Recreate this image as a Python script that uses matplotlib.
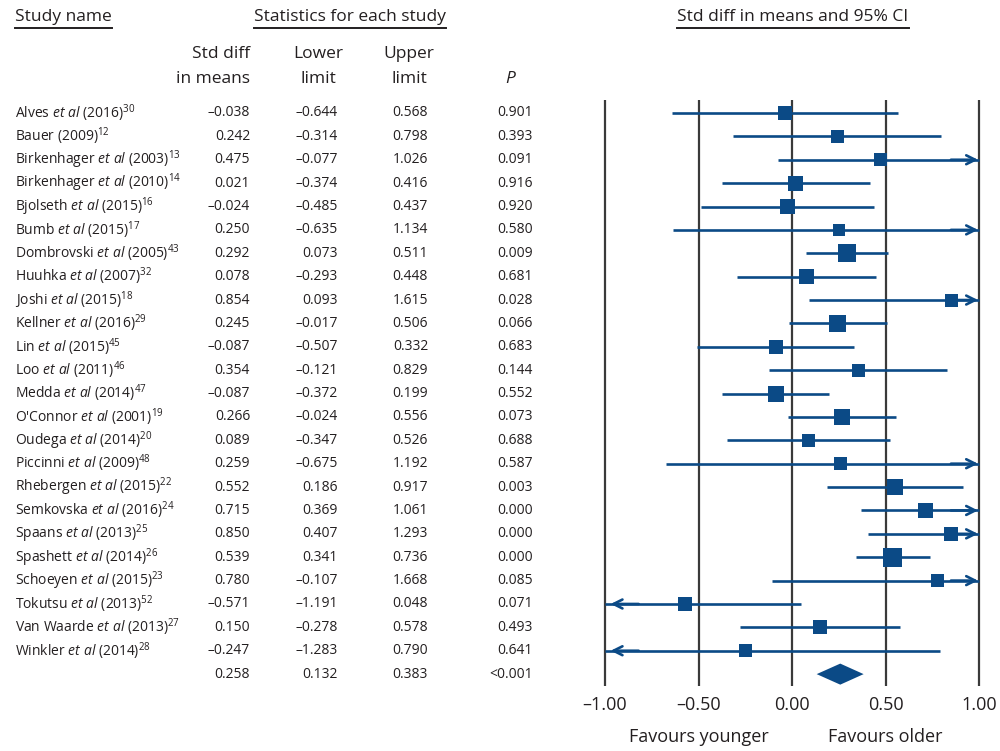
import matplotlib
matplotlib.use("Agg")
import matplotlib.pyplot as plt
from matplotlib import font_manager
from matplotlib.transforms import blended_transform_factory
from matplotlib.lines import Line2D

# ---- data -------------------------------------------------------------
studies = [
    "Alves et al (2016)", "Bauer (2009)", "Birkenhager et al (2003)",
    "Birkenhager et al (2010)", "Bjolseth et al (2015)", "Bumb et al (2015)",
    "Dombrovski et al (2005)", "Huuhka et al (2007)", "Joshi et al (2015)",
    "Kellner et al (2016)", "Lin et al (2015)", "Loo et al (2011)",
    "Medda et al (2014)", "O'Connor et al (2001)", "Oudega et al (2014)",
    "Piccinni et al (2009)", "Rhebergen et al (2015)", "Semkovska et al (2016)",
    "Spaans et al (2013)", "Spashett et al (2014)", "Schoeyen et al (2015)",
    "Tokutsu et al (2013)", "Van Waarde et al (2013)", "Winkler et al (2014)",
]
refs = ["30", "12", "13", "14", "16", "17", "43", "32", "18", "29", "45", "46",
        "47", "19", "20", "48", "22", "24", "25", "26", "23", "52", "27", "28"]
smd = [-0.038, 0.242, 0.475, 0.021, -0.024, 0.250, 0.292, 0.078, 0.854, 0.245,
       -0.087, 0.354, -0.087, 0.266, 0.089, 0.259, 0.552, 0.715, 0.850, 0.539,
       0.780, -0.571, 0.150, -0.247]
lower = [-0.644, -0.314, -0.077, -0.374, -0.485, -0.635, 0.073, -0.293, 0.093,
         -0.017, -0.507, -0.121, -0.372, -0.024, -0.347, -0.675, 0.186, 0.369,
         0.407, 0.341, -0.107, -1.191, -0.278, -1.283]
upper = [0.568, 0.798, 1.026, 0.416, 0.437, 1.134, 0.511, 0.448, 1.615, 0.506,
         0.332, 0.829, 0.199, 0.556, 0.526, 1.192, 0.917, 1.061, 1.293, 0.736,
         1.668, 0.048, 0.578, 0.790]
p_values = ["0.901", "0.393", "0.091", "0.916", "0.920", "0.580", "0.009",
            "0.681", "0.028", "0.066", "0.683", "0.144", "0.552", "0.073",
            "0.688", "0.587", "0.003", "0.000", "0.000", "0.000", "0.085",
            "0.071", "0.493", "0.641"]
# relative study weights (%)
weights = [3.6, 3.3, 3.3, 4.4, 3.9, 2.8, 6.4, 4.4, 3.3, 5.7, 3.9, 3.3,
           5.0, 5.0, 3.3, 3.3, 5.0, 4.4, 3.9, 7.1, 3.3, 3.9, 3.9, 3.3]
pooled_smd, pooled_lower, pooled_upper, pooled_p = 0.258, 0.132, 0.383, "<0.001"

x_ticks = [-1.0, -0.5, 0.0, 0.5, 1.0]

# ---- style ------------------------------------------------------------
installed = {f.name for f in font_manager.fontManager.ttflist}
FONT = next((f for f in ["Liberation Sans Narrow", "Open Sans", "DejaVu Sans"]
             if f in installed), "DejaVu Sans")
plt.rcParams["font.family"] = [FONT, "DejaVu Sans"]
plt.rcParams["mathtext.fontset"] = "custom"
plt.rcParams["mathtext.rm"] = FONT
plt.rcParams["mathtext.it"] = FONT + ":italic"
plt.rcParams["mathtext.bf"] = FONT + ":bold"

BLUE = "#0b4a86"
TEXT = "#231f20"
GRID = "#3a3a3a"
MINUS = "\u2013"


def fmt(v):
    s = f"{v:.3f}"
    return s.replace("-", MINUS)


def label(name, ref):
    name = name.replace(" et al ", r" $\mathit{et\ al}$ ")
    return name + r"$^{" + ref + "}$"


# ---- figure -----------------------------------------------------------
W, H = 1000, 751
fig = plt.figure(figsize=(W / 100, H / 100), dpi=100)
ax = fig.add_axes([0, 0, 1, 1])
ax.axis("off")

# x: 187 px per unit, 0 at px 792 ; y: row 0 at px 113, 23.38 px per row
x0_px, x_scale = 792, 187
y0_px, y_scale = 113, 23.38
ax.set_xlim(-x0_px / x_scale, (W - x0_px) / x_scale)
ax.set_ylim((H - y0_px) / y_scale, -y0_px / y_scale)

n = len(studies)
rows = list(range(n))
pooled_row = n

# grid lines
for t in x_ticks:
    ax.plot([t, t], [-0.55, pooled_row + 0.5], color=GRID, lw=1.6,
            solid_capstyle="butt", zorder=1)
    ax.text(t, pooled_row + 1.3, f"{t:.2f}".replace("-", MINUS), ha="center",
            va="center", fontsize=13, color=TEXT)

ax.text(-0.5, pooled_row + 2.7, "Favours younger", ha="center", va="center",
        fontsize=13, color=TEXT)
ax.text(0.5, pooled_row + 2.7, "Favours older", ha="center", va="center",
        fontsize=13, color=TEXT)

# confidence intervals and squares
lim_lo, lim_hi = x_ticks[0], x_ticks[-1]
for r, m, lo, hi, w in zip(rows, smd, lower, upper, weights):
    a, b = max(lo, lim_lo), min(hi, lim_hi)
    ax.plot([a, b], [r, r], color=BLUE, lw=1.9, solid_capstyle="butt", zorder=2)
    if hi > lim_hi:
        ax.annotate("", xy=(lim_hi - 0.005, r), xytext=(lim_hi - 0.15, r),
                    arrowprops=dict(arrowstyle="->", color=BLUE, lw=1.9,
                                    mutation_scale=16, shrinkA=0, shrinkB=0),
                    zorder=3)
    if lo < lim_lo:
        ax.annotate("", xy=(lim_lo + 0.03, r), xytext=(lim_lo + 0.18, r),
                    arrowprops=dict(arrowstyle="->", color=BLUE, lw=1.9,
                                    mutation_scale=16, shrinkA=0, shrinkB=0),
                    zorder=3)
    side_px = (w * 50.75) ** 0.5
    ax.scatter([m], [r], marker="s", s=(side_px * 0.72) ** 2, color=BLUE,
               edgecolors="none", zorder=4)

# pooled diamond
ax.fill([pooled_lower, pooled_smd, pooled_upper, pooled_smd],
        [pooled_row, pooled_row - 0.45, pooled_row, pooled_row + 0.45],
        color=BLUE, lw=0, zorder=4)

# ---- table text -------------------------------------------------------
tr = blended_transform_factory(fig.transFigure, ax.transData)
col_name = 15 / W
col_smd = 250 / W
col_low = 338 / W
col_up = 428 / W
col_p = 533 / W
fs = 10

for r, name, ref, m, lo, hi, p in zip(rows, studies, refs, smd, lower, upper,
                                      p_values):
    ax.text(col_name, r, label(name, ref), transform=tr, ha="left",
            va="center", fontsize=fs, color=TEXT)
    ax.text(col_smd, r, fmt(m), transform=tr, ha="right", va="center",
            fontsize=fs, color=TEXT)
    ax.text(col_low, r, fmt(lo), transform=tr, ha="right", va="center",
            fontsize=fs, color=TEXT)
    ax.text(col_up, r, fmt(hi), transform=tr, ha="right", va="center",
            fontsize=fs, color=TEXT)
    ax.text(col_p, r, p, transform=tr, ha="right", va="center",
            fontsize=fs, color=TEXT)

for x, v in [(col_smd, fmt(pooled_smd)), (col_low, fmt(pooled_lower)),
             (col_up, fmt(pooled_upper)), (col_p, pooled_p)]:
    ax.text(x, pooled_row, v, transform=tr, ha="right", va="center",
            fontsize=fs, color=TEXT)

# column headers
hfs = 12.5
fig.text(250 / W, 1 - 54 / H, "Std diff", ha="right", va="center",
         fontsize=hfs, color=TEXT)
fig.text(250 / W, 1 - 79 / H, "in means", ha="right", va="center",
         fontsize=hfs, color=TEXT)
fig.text(318 / W, 1 - 54 / H, "Lower", ha="center", va="center",
         fontsize=hfs, color=TEXT)
fig.text(318 / W, 1 - 79 / H, "limit", ha="center", va="center",
         fontsize=hfs, color=TEXT)
fig.text(409 / W, 1 - 54 / H, "Upper", ha="center", va="center",
         fontsize=hfs, color=TEXT)
fig.text(409 / W, 1 - 79 / H, "limit", ha="center", va="center",
         fontsize=hfs, color=TEXT)
fig.text(510 / W, 1 - 79 / H, "P", ha="center", va="center",
         fontsize=hfs, color=TEXT, fontstyle="italic")

# underlined section titles
titles = [
    fig.text(15 / W, 1 - 17 / H, "Study name", ha="left", va="center",
             fontsize=hfs, color=TEXT),
    fig.text(254 / W, 1 - 17 / H, "Statistics for each study", ha="left",
             va="center", fontsize=hfs, color=TEXT),
    fig.text(793 / W, 1 - 17 / H, "Std diff in means and 95% CI", ha="center",
             va="center", fontsize=hfs, color=TEXT),
]
fig.canvas.draw()
renderer = fig.canvas.get_renderer()
for t in titles:
    bb = t.get_window_extent(renderer)
    y_line = 1 - 28 / H
    fig.add_artist(Line2D([bb.x0 / W, bb.x1 / W], [y_line, y_line],
                          transform=fig.transFigure, color=TEXT, lw=1.4))

fig.savefig("out.png", dpi=100)
